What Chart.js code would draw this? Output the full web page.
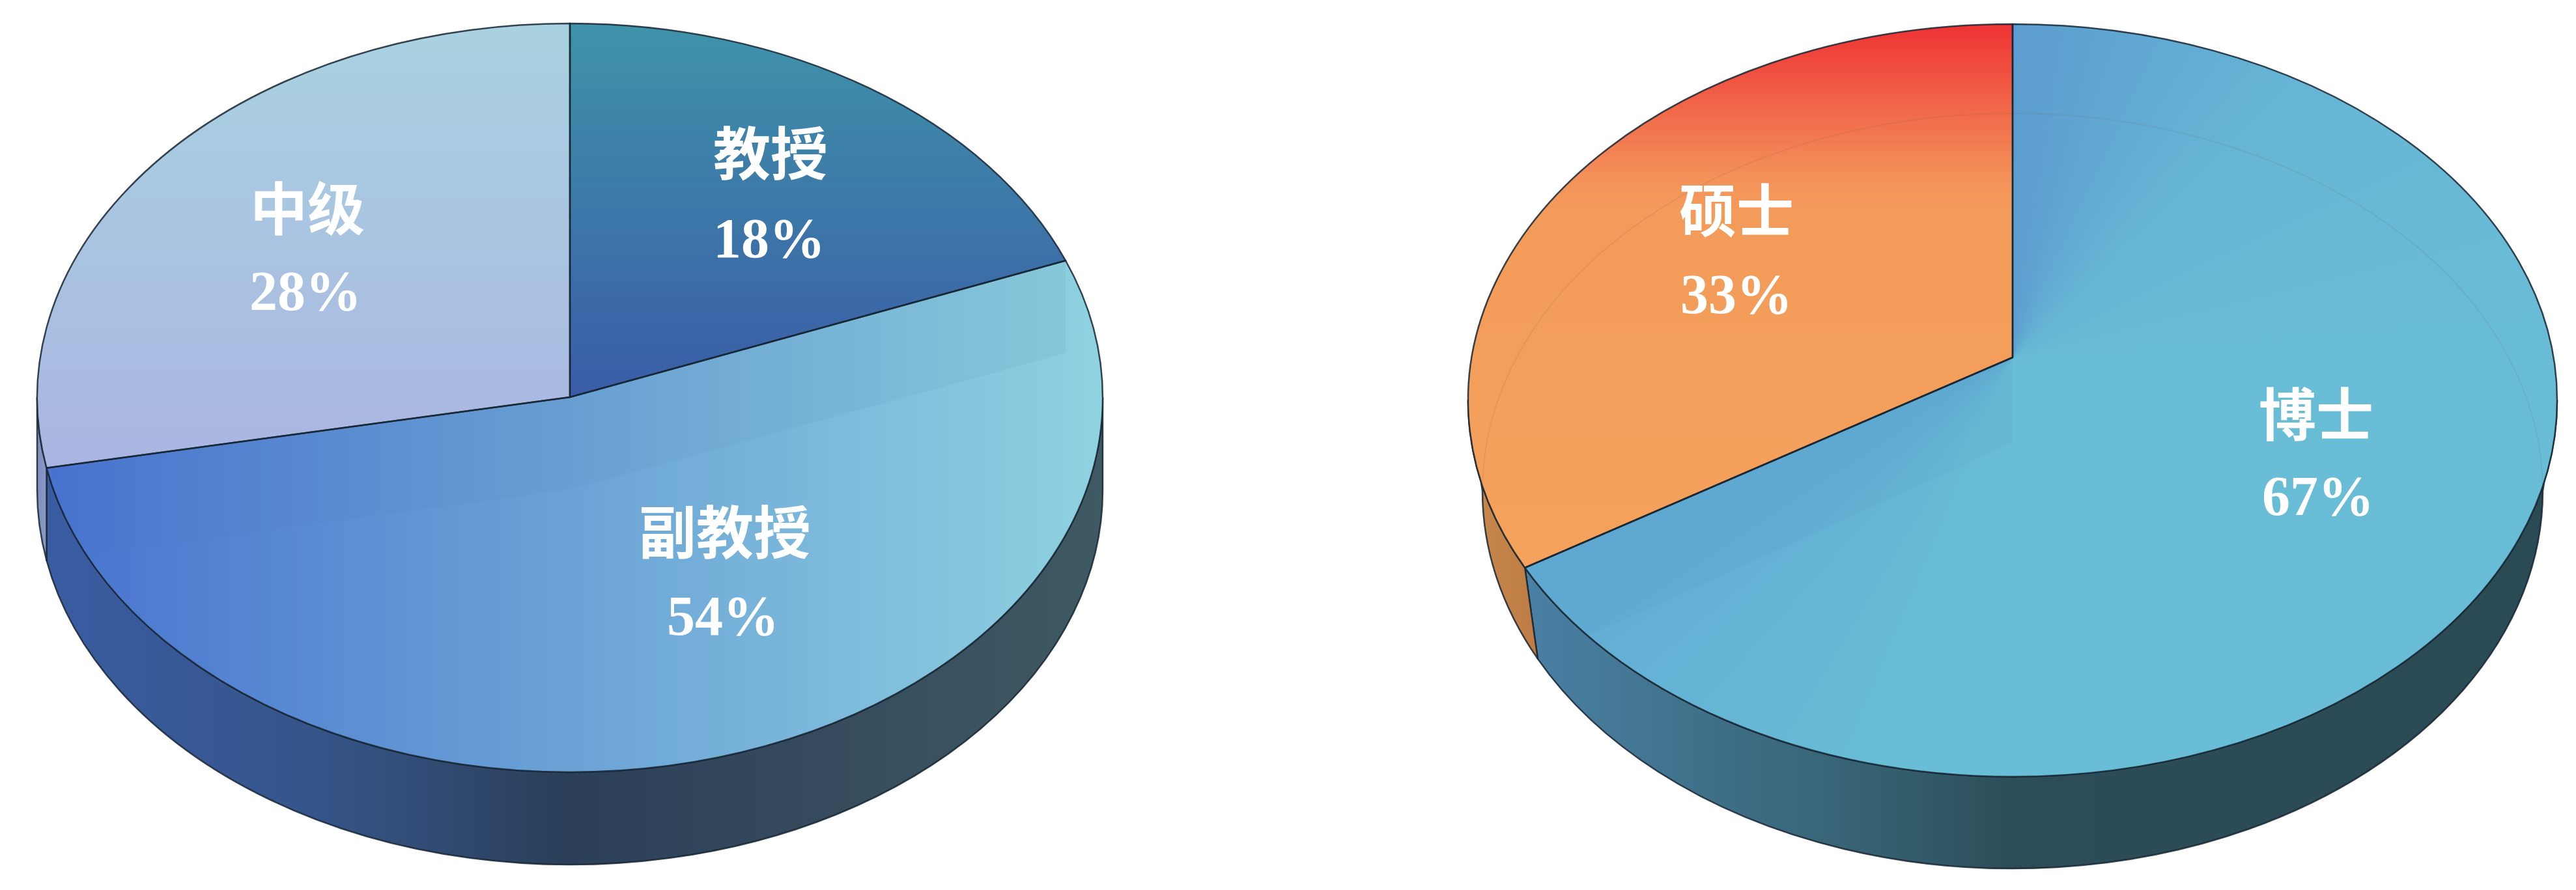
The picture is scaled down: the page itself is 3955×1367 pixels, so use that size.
<!DOCTYPE html>
<html>
<head>
<meta charset="utf-8">
<title>职称与学历</title>
<script src="https://cdn.jsdelivr.net/npm/chart.js@4"></script>
<style>
  html, body { margin: 0; background: #fff; }
  canvas { position: absolute; top: 0; }
</style>
</head>
<body>
<canvas id="titles" width="1977" height="1367" style="left:0"></canvas>
<canvas id="degrees" width="1978" height="1367" style="left:1977px"></canvas>
<script>
const titleLabels = ['教授', '副教授', '中级'];
const titleValues = [18, 54, 28];
const degreeLabels = ['博士', '硕士'];
const degreeValues = [67, 33];

const DEG = Math.PI / 180;
const FONT_CJK = 'bold 88px "Liberation Serif", "Noto Sans CJK SC"';
const FONT_NUM = 'bold 86px "Liberation Serif", "Noto Sans CJK SC"';

function hStops(ctx, x0, x1, stops) {
    const g = ctx.createLinearGradient(x0, 0, x1, 0);
    stops.forEach(s => g.addColorStop(s[0], s[1]));
    return g;
}

function vStops(ctx, y0, y1, stops) {
    const g = ctx.createLinearGradient(0, y0, 0, y1);
    stops.forEach(s => g.addColorStop(s[0], s[1]));
    return g;
}

// the reference's 3D projection moves a few rim edges off their true angle, edges[i] is the end of slice i
const titleView = {
    top: { cx: 875, cy: 611, rx: 818, ry: 575 },
    bottom: { cx: 875, cy: 753, rx: 818, ry: 575 },
    apexY: 610,
    apexBottomY: 752,
    edges: [3.7 * DEG, 0, 0],
    ghost: ctx => hStops(ctx, 73, 1692, [[0, 'rgba(35,75,115,0.015)'], [0.5, 'rgba(35,75,115,0.04)'], [1, 'rgba(35,75,115,0.06)']]),
    ghostLine: 'rgba(60,110,140,0)',
    text: [[1183, 245, 1181, 373], [1113, 827, 1110, 953], [472, 330, 469, 454]],
    faces: [
        ctx => vStops(ctx, 37, 610, [[0, '#3f93aa'], [1, '#3a5ca7']]),
        ctx => hStops(ctx, 73, 1692, [[0, '#4873cf'], [0.5, '#6ba3d6'], [1, '#8fd2e0']]),
        ctx => vStops(ctx, 37, 720, [[0, '#a9d2e0'], [1, '#aab5e2']])
    ],
    walls: [
        null,
        ctx => hStops(ctx, 73, 1692, [[0, '#3a5ca2'], [0.25, '#35558a'], [0.49, '#2b3f59'], [0.7, '#34495c'], [1, '#3f5a63']]),
        ctx => hStops(ctx, 55, 80, [[0, '#7d8dbd'], [1, '#8fa0cc']])
    ]
};

const degreeView = {
    top: { cx: 1113, cy: 615, rx: 836, ry: 578 },
    bottom: { cx: 1113, cy: 754, rx: 814, ry: 580 },
    apexY: 549,
    apexBottomY: 680,
    edges: [2.4 * DEG, 0],
    ghost: ctx => 'rgba(50,90,170,0.045)',
    ghostLine: 'rgba(110,90,70,0.11)',
    text: [[1579, 646, 1582, 769], [689, 333, 689, 459]],
    faces: [
        ctx => {
            const g = ctx.createConicGradient(-Math.PI / 2, 1113, 549);
            g.addColorStop(0, '#5c9dcf');
            g.addColorStop(0.13, '#66b5d5');
            g.addColorStop(0.24, '#69bcd6');
            g.addColorStop(0.55, '#69bdd6');
            g.addColorStop(0.67, '#62add4');
            g.addColorStop(1, '#5c9dcf');
            return g;
        },
        ctx => vStops(ctx, 37, 880, [[0, '#ee3234'], [0.28, '#f3925a'], [0.34, '#f39b5a'], [1, '#f5a25c']])
    ],
    walls: [
        ctx => hStops(ctx, 365, 1950, [[0, '#4a80a4'], [0.18, '#3f7088'], [0.36, '#345e6d'], [0.47, '#2c4d58'], [1, '#2a4a54']]),
        ctx => hStops(ctx, 280, 380, [[0, '#c9894c'], [1, '#bd7c44']])
    ]
};

function rimPoint(e, a) {
    return [e.cx + e.rx * Math.cos(a), e.cy + e.ry * Math.sin(a)];
}

function slicePath(ctx, view, a0, a1) {
    const e = view.top;
    ctx.beginPath();
    ctx.moveTo(e.cx, view.apexY);
    ctx.ellipse(e.cx, e.cy, e.rx, e.ry, 0, a0, a1);
    ctx.closePath();
}

function wallPath(ctx, view, a0, a1) {
    const t = view.top, b = view.bottom;
    ctx.beginPath();
    ctx.ellipse(t.cx, t.cy, t.rx, t.ry, 0, a0, a1);
    ctx.ellipse(b.cx, b.cy, b.rx, b.ry, 0, a1, a0, true);
    ctx.closePath();
}

const pie3d = {
    id: 'pie3d',
    beforeDatasetsDraw(chart, args, opts) {
        const ctx = chart.ctx;
        const view = opts.view;
        const arcs = chart.getDatasetMeta(0).data;
        const ranges = arcs.map((el, i) => [
            el.startAngle + (i > 0 ? view.edges[i - 1] : 0),
            el.endAngle + view.edges[i]
        ]);
        const line = arcs[0].options.borderColor;
        const lineWidth = arcs[0].options.borderWidth;

        ctx.save();
        ctx.lineJoin = 'round';

        // side walls, only the front half shows
        ranges.forEach((r, i) => {
            const lo = Math.max(r[0], 0);
            const hi = Math.min(r[1], Math.PI);
            if (lo >= hi || !view.walls[i]) return;
            wallPath(ctx, view, lo, hi);
            ctx.fillStyle = view.walls[i](ctx);
            ctx.fill();
            ctx.strokeStyle = line;
            ctx.lineWidth = lineWidth;
            ctx.stroke();
        });

        // top faces
        ranges.forEach((r, i) => {
            slicePath(ctx, view, r[0], r[1]);
            ctx.fillStyle = arcs[i].options.backgroundColor;
            ctx.fill();
        });

        // the see-through inner wall of the biggest slice
        const big = arcs.reduce((best, el, i) => (el.circumference > arcs[best].circumference ? i : best), 0);
        const t = view.top, b = view.bottom;
        ctx.save();
        slicePath(ctx, view, ranges[big][0], ranges[big][1]);
        ctx.clip();
        const s0 = rimPoint(t, ranges[big][0]), e0 = rimPoint(t, ranges[big][1]);
        const s1 = rimPoint(b, ranges[big][0]), e1 = rimPoint(b, ranges[big][1]);
        ctx.beginPath();
        ctx.moveTo(s0[0], s0[1]);
        ctx.lineTo(t.cx, view.apexY);
        ctx.lineTo(e0[0], e0[1]);
        ctx.lineTo(e1[0], e1[1]);
        ctx.lineTo(b.cx, view.apexBottomY);
        ctx.lineTo(s1[0], s1[1]);
        ctx.closePath();
        ctx.fillStyle = view.ghost(ctx);
        ctx.fill();
        ctx.restore();

        // bottom rim seen through the top face
        ctx.save();
        ctx.beginPath();
        ctx.ellipse(t.cx, t.cy, t.rx, t.ry, 0, 0, Math.PI * 2);
        ctx.clip();
        ctx.beginPath();
        ctx.ellipse(b.cx, b.cy, b.rx, b.ry, 0, Math.PI, Math.PI * 2);
        ctx.strokeStyle = view.ghostLine;
        ctx.lineWidth = 2;
        ctx.stroke();
        ctx.restore();

        // slice outlines
        ranges.forEach(r => {
            slicePath(ctx, view, r[0], r[1]);
            ctx.strokeStyle = line;
            ctx.lineWidth = lineWidth;
            ctx.stroke();
        });

        // labels
        ctx.fillStyle = '#fff';
        ctx.textAlign = 'center';
        ctx.textBaseline = 'middle';
        arcs.forEach((el, i) => {
            const p = view.text[i];
            ctx.font = FONT_CJK;
            ctx.fillText(chart.data.labels[i], p[0], p[1]);
            ctx.font = FONT_NUM;
            ctx.fillText(chart.data.datasets[0].data[i] + '%', p[2], p[3]);
        });
        ctx.restore();
        return false;
    }
};

function makePie(id, labels, values, view) {
    return new Chart(document.getElementById(id), {
        type: 'pie',
        data: {
            labels: labels,
            datasets: [{
                data: values,
                backgroundColor: c => view.faces[c.dataIndex](c.chart.ctx),
                borderColor: 'rgba(24,38,50,0.85)',
                borderWidth: 2.5
            }]
        },
        options: {
            responsive: false,
            animation: false,
            devicePixelRatio: 1,
            events: [],
            plugins: {
                legend: { display: false },
                tooltip: { enabled: false },
                pie3d: { view: view }
            }
        },
        plugins: [pie3d]
    });
}

makePie('titles', titleLabels, titleValues, titleView);
makePie('degrees', degreeLabels, degreeValues, degreeView);
</script>
</body>
</html>
